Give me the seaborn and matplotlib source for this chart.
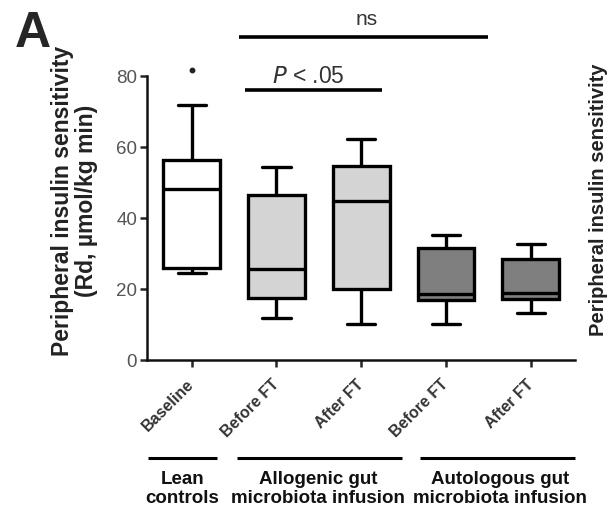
import matplotlib
matplotlib.use("Agg")
import matplotlib.pyplot as plt
import matplotlib.transforms as mtransforms
import seaborn as sns
import pandas as pd

sns.set_theme(style="ticks")
plt.rcParams["font.family"] = ["Liberation Sans", "DejaVu Sans"]

# Five-number summaries (min, Q1, median, Q3, max) per condition
conditions = ["Baseline", "Before FT", "After FT", "Before FT ", "After FT "]
tick_labels = ["Baseline", "Before FT", "After FT", "Before FT", "After FT"]
baseline = [24.5, 25.9, 48.2, 56.3, 71.8]
allo_before = [11.8, 17.5, 25.6, 46.5, 54.4]
allo_after = [10.1, 20.0, 44.8, 54.6, 62.3]
auto_before = [10.1, 16.9, 18.6, 31.5, 35.2]
auto_after = [13.2, 17.2, 18.9, 28.5, 32.7]
baseline_star = 81.7
box_colors = ["#ffffff", "#d4d4d4", "#d4d4d4", "#7f7f7f", "#7f7f7f"]

groups = ["Lean\ncontrols", "Allogenic gut\nmicrobiota infusion", "Autologous gut\nmicrobiota infusion"]

df = pd.DataFrame({
    "condition": [c for c, vals in zip(conditions, [baseline, allo_before, allo_after, auto_before, auto_after]) for _ in vals],
    "value": baseline + allo_before + allo_after + auto_before + auto_after,
})

fig = plt.figure(figsize=(6.09, 5.08), dpi=100)
ax = fig.add_axes([0.241, 0.291, 0.703, 0.559])

sns.boxplot(data=df, x="condition", y="value", hue="condition", order=conditions,
            hue_order=conditions, palette=box_colors, whis=(0, 100), width=0.67,
            linecolor="black", linewidth=2.4, legend=False, ax=ax, saturation=1,
            whiskerprops=dict(linewidth=2.4), capprops=dict(linewidth=2.4),
            medianprops=dict(linewidth=2.4, color="black"))

ax.set_xlim(-0.53, 4.52)
ax.set_ylim(0, 80)
ax.set_yticks([0, 20, 40, 60, 80])
ax.set_xticks(range(5))
ax.set_xticklabels(tick_labels, rotation=45, ha="right", va="center",
                   rotation_mode="anchor", fontsize=11.5, fontweight="bold",
                   color="#333333")
ax.tick_params(axis="y", labelsize=13.5, length=5, width=1.8, pad=2)
ax.tick_params(axis="x", length=5, width=1.8, pad=11)
for lbl in ax.get_yticklabels():
    lbl.set_color("#555555")
ax.set_xlabel("")
ax.set_ylabel("Peripheral insulin sensitivity\n(Rd, µmol/kg min)", fontsize=16.5,
              fontweight="bold", color="#222222", linespacing=1.1)
ax.yaxis.set_label_coords(-0.113, 0.56)
sns.despine(ax=ax)
for s in ["left", "bottom"]:
    ax.spines[s].set_linewidth(1.8)
    ax.spines[s].set_color("#111111")

# asterisk above the lean controls
ax.plot([0], [baseline_star], marker="o", markersize=3.2, color="#222222", clip_on=False)

# significance bars
ax.plot([0.555, 3.50], [91, 91], color="black", lw=2.6, clip_on=False, solid_capstyle="butt")
ax.text(2.06, 93.3, "ns", ha="center", va="bottom", fontsize=15, color="#333333", clip_on=False)
ax.plot([0.625, 2.24], [76, 76], color="black", lw=2.6, clip_on=False, solid_capstyle="butt")
ax.text(1.38, 76.7, "$\\mathit{P}$ < .05", ha="center", va="bottom", fontsize=16.5,
        color="#333333", clip_on=False)

# group brackets below the axis
trans = mtransforms.blended_transform_factory(ax.transData, fig.transFigure)
group_spans = [(-0.52, 0.295), (0.53, 2.48), (2.69, 4.52)]
group_centers = [-0.11, 1.49, 3.64]
for (a, b), c, name in zip(group_spans, group_centers, groups):
    ax.plot([a, b], [1 - 458 / 508, 1 - 458 / 508], transform=trans, color="black",
            lw=2.2, clip_on=False, solid_capstyle="butt")
    ax.text(c, 1 - 471 / 508, name, transform=trans, ha="center", va="top",
            fontsize=13.5, fontweight="bold", color="#111111", linespacing=1.12)

fig.text(0.024, 1 - 11 / 508, "A", fontsize=36, fontweight="bold", ha="left", va="top")
# neighbouring panel's axis title at the right edge
fig.text(589 / 609, 1 - 336 / 508, "Peripheral insulin sensitivity", rotation=90,
         fontsize=14.5, fontweight="bold", color="#222222", ha="left", va="bottom")

fig.savefig("out.png", dpi=100)
